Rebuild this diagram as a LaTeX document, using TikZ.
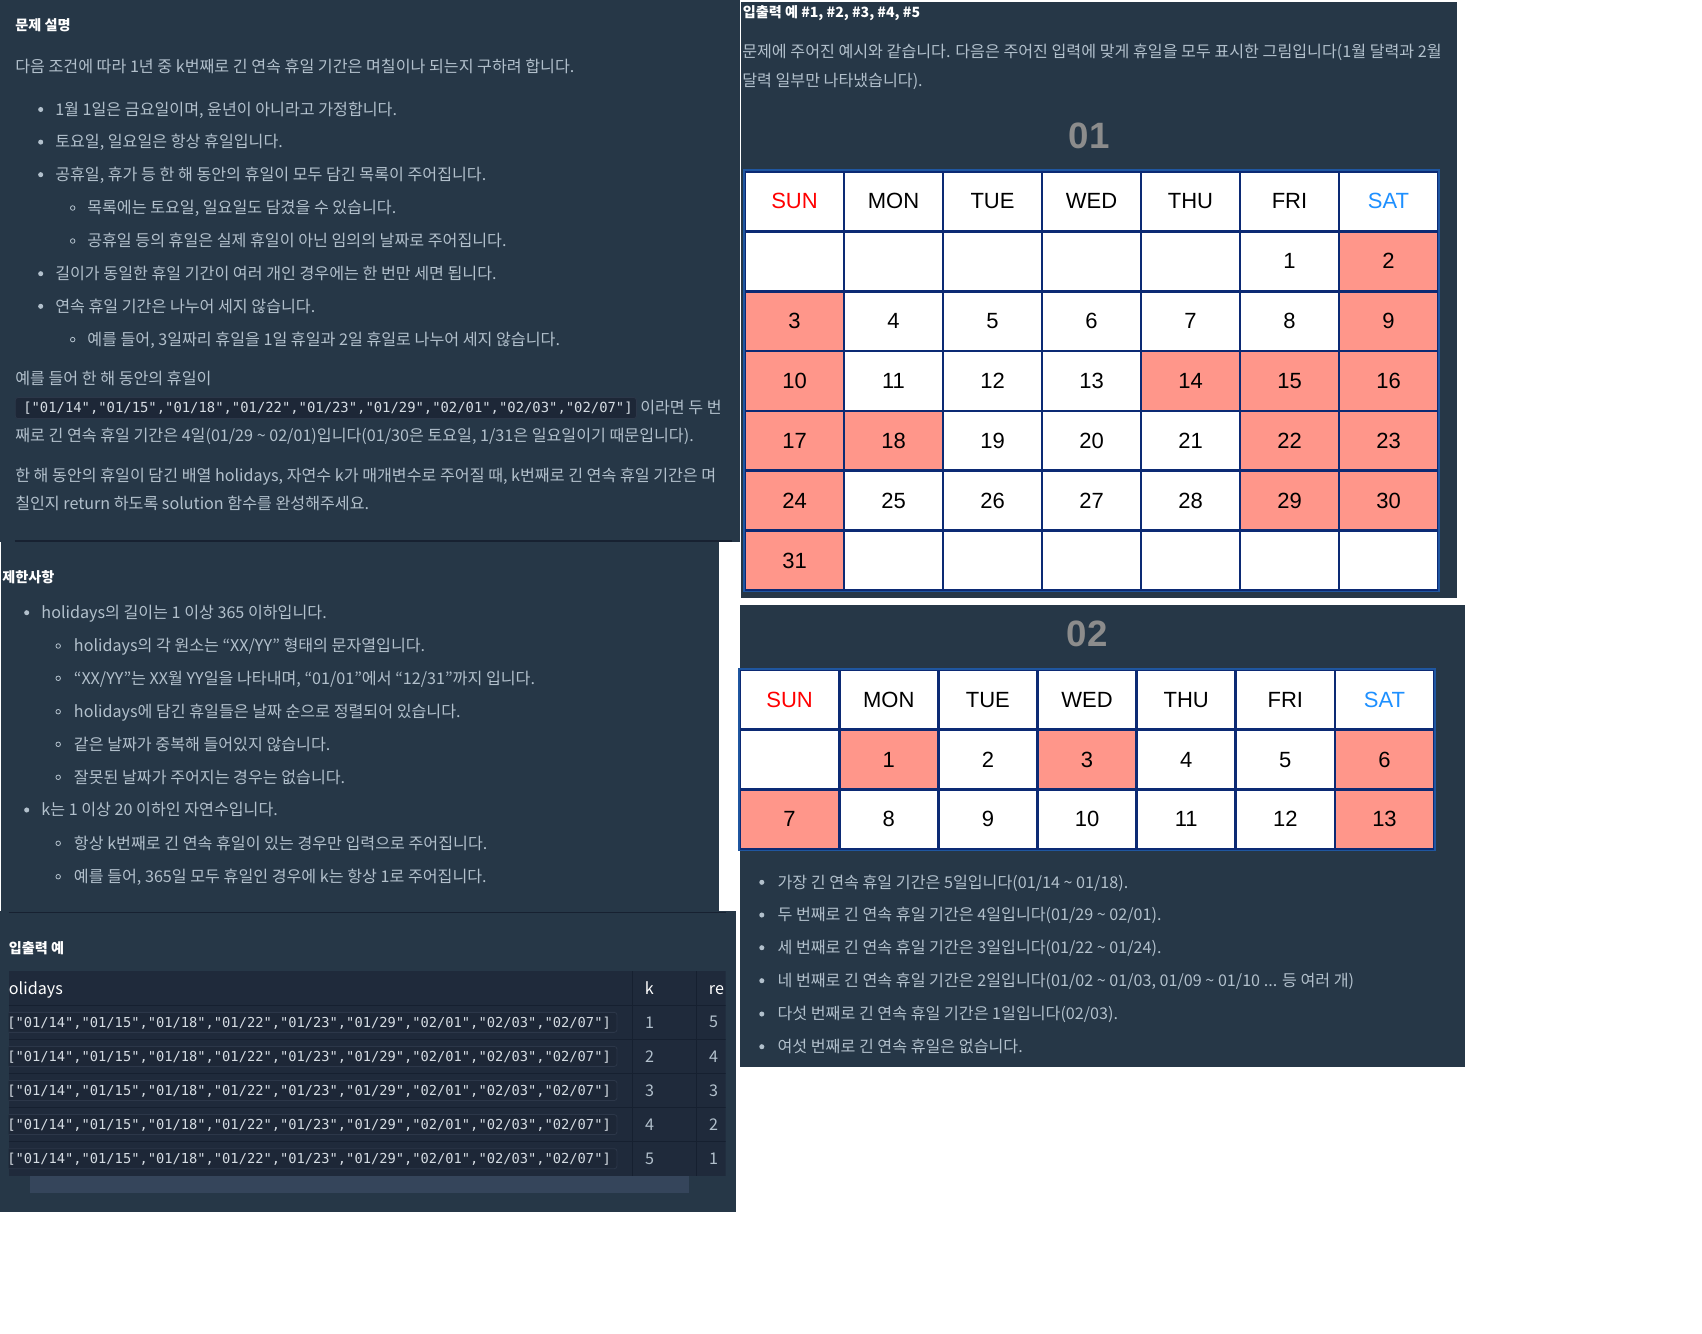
\documentclass[tikz,border=0pt]{standalone}
\usepackage{fontspec}
\setmainfont{Noto Sans CJK KR}
\newfontfamily\calfont{Liberation Sans}
\newfontfamily\codefont{DejaVu Sans Mono}
\definecolor{panelbg}{HTML}{263747}
\definecolor{bodytext}{HTML}{B2C0CC}
\definecolor{codetext}{HTML}{D5DCE3}
\definecolor{codebg}{HTML}{1D2737}
\definecolor{codeline}{HTML}{2C3749}
\definecolor{hrline}{HTML}{172131}
\definecolor{tablebg}{HTML}{1F2A3B}
\definecolor{tline}{HTML}{162030}
\definecolor{scroll}{HTML}{35455B}
\definecolor{holiday}{HTML}{FF968A}
\definecolor{cellline}{HTML}{0C2A74}
\definecolor{gridline}{HTML}{1F56A0}
\definecolor{monthgray}{HTML}{8C8C8C}
\definecolor{sunred}{HTML}{FF0000}
\definecolor{satblue}{HTML}{1E90FF}
\newcommand\hlist{["01/14","01/15","01/18","01/22","01/23","01/29","02/01","02/03","02/07"]}

\begin{document}
\begin{tikzpicture}[x=0.75pt,y=-0.75pt,
    every node/.style={inner sep=0},
    panel/.style={fill=panelbg},
    txt/.style={anchor=base west,text=bodytext,font=\fontsize{12.1}{14}\selectfont},
    head/.style={anchor=base west,text=white,font=\fontsize{10.6}{13}\selectfont\bfseries},
    dot/.style={fill=bodytext},
    ring/.style={draw=bodytext,line width=0.6pt},
    code/.style={anchor=base west,text=codetext,font=\fontsize{10.3}{12}\codefont},
    codebox/.style={fill=codebg,draw=codeline,line width=0.6pt,rounded corners=2pt},
    hr/.style={draw=hrline,line width=0.9pt},
    th/.style={anchor=base west,text=white,font=\fontsize{12.1}{14}\selectfont},
    td/.style={text=bodytext,font=\fontsize{12.1}{14}\selectfont},
    cell/.style={draw=cellline,line width=1.9pt,minimum width=74.25pt,minimum height=44.8pt,
        text=black,font=\fontsize{16.5}{18}\calfont},
    day0/.style={fill=white},
    day1/.style={fill=holiday},
    month/.style={text=monthgray,font=\fontsize{27.5}{30}\calfont\bfseries}]
    % 绘制背景
    \fill[white](0,0)rectangle(1702,1334);
    \useasboundingbox(0,0)rectangle(1702,1334);
    \fill[panel](0,0)rectangle(740,542);
    \fill[panel](1,542)rectangle(719,911);
    \fill[panel](0,911)rectangle(736,1212);
    \fill[panel](741,2)rectangle(1457,598);
    \fill[panel](740,605)rectangle(1465,1067);
    \draw[hr](14.5,541)--(732,541);
    \draw[hr](8.7,912.3)--(725.6,912.3);
    % 문제 설명
    \node[head](a0)at(15,31){문제 설명};
    \node[txt](a1)at(15,72.3){다음 조건에 따라 1년 중 k번째로 긴 연속 휴일 기간은 며칠이나 되는지 구하려 합니다.};
    \foreach \y in {109.5,142.1,174.7,273.7,306.3}
        \fill[dot](40.7,\y)circle(1.9pt);
    \foreach \y in {208,241,339.6}
        \draw[ring](72.7,\y)circle(1.7pt);
    \node[txt](a2)at(55,115.3){1월 1일은 금요일이며, 윤년이 아니라고 가정합니다.};
    \node[txt](a3)at(55,147.9){토요일, 일요일은 항상 휴일입니다.};
    \node[txt](a4)at(55,180.5){공휴일, 휴가 등 한 해 동안의 휴일이 모두 담긴 목록이 주어집니다.};
    \node[txt](a5)at(87,213.8){목록에는 토요일, 일요일도 담겼을 수 있습니다.};
    \node[txt](a6)at(87,246.8){공휴일 등의 휴일은 실제 휴일이 아닌 임의의 날짜로 주어집니다.};
    \node[txt](a7)at(55,279.5){길이가 동일한 휴일 기간이 여러 개인 경우에는 한 번만 세면 됩니다.};
    \node[txt](a8)at(55,312.1){연속 휴일 기간은 나누어 세지 않습니다.};
    \node[txt](a9)at(87,345.4){예를 들어, 3일짜리 휴일을 1일 휴일과 2일 휴일로 나누어 세지 않습니다.};
    \node[txt](a10)at(15,384.8){예를 들어 한 해 동안의 휴일이};
    \draw[codebox](15.3,397.5)rectangle(636.4,418.6);
    \node[code,font=\fontsize{10.4}{12}\codefont](a11)at(23,412.5){\hlist};
    \node[txt](a12)at(640,413.5){이라면 두 번};
    \node[txt](a13)at(15,441.8){째로 긴 연속 휴일 기간은 4일(01/29 \textasciitilde{} 02/01)입니다(01/30은 토요일, 1/31은 일요일이기 때문입니다).};
    \node[txt](a14)at(15,481.2){한 해 동안의 휴일이 담긴 배열 holidays, 자연수 k가 매개변수로 주어질 때, k번째로 긴 연속 휴일 기간은 며};
    \node[txt](a15)at(15,509.3){칠인지 return 하도록 solution 함수를 완성해주세요.};
    % 제한사항
    \node[head](b0)at(2,582){제한사항};
    \foreach \y in {612.7,810}
        \fill[dot](26.7,\y)circle(1.9pt);
    \foreach \y in {646,678.3,711.7,744.3,777.3,843.3,876.7}
        \draw[ring](58.2,\y)circle(1.7pt);
    \node[txt](b1)at(41.2,618.5){holidays의 길이는 1 이상 365 이하입니다.};
    \node[txt](b2)at(73.7,651.8){holidays의 각 원소는 “XX/YY” 형태의 문자열입니다.};
    \node[txt](b3)at(73.7,684.1){“XX/YY”는 XX월 YY일을 나타내며, “01/01”에서 “12/31”까지 입니다.};
    \node[txt](b4)at(73.7,717.5){holidays에 담긴 휴일들은 날짜 순으로 정렬되어 있습니다.};
    \node[txt](b5)at(73.7,750.1){같은 날짜가 중복해 들어있지 않습니다.};
    \node[txt](b6)at(73.7,783.1){잘못된 날짜가 주어지는 경우는 없습니다.};
    \node[txt](b7)at(41.2,815.8){k는 1 이상 20 이하인 자연수입니다.};
    \node[txt](b8)at(73.7,849.1){항상 k번째로 긴 연속 휴일이 있는 경우만 입력으로 주어집니다.};
    \node[txt](b9)at(73.7,882.5){예를 들어, 365일 모두 휴일인 경우에 k는 항상 1로 주어집니다.};
    % 입출력 예 표
    \node[head](e0)at(8.7,953.5){입출력 예};
    \begin{scope}
        \clip(8.7,971)rectangle(725.6,1175.7);
        \fill[tablebg](8.7,971)rectangle(725.6,1175.7);
        \foreach \y in {1005.3,1039.3,1073.3,1107.3,1141.7}
            \draw[tline,line width=0.9pt](8.7,\y)--(725.6,\y);
        \draw[tline,line width=0.9pt](632.6,971)--(632.6,1175.7);
        \draw[tline,line width=0.9pt](696.6,971)--(696.6,1175.7);
        \node[th](h1)at(8.7,994.8){olidays};
        \node[th](h2)at(644.7,994.8){k};
        \node[th](h3)at(708.7,994.8){re};
        \foreach \k/\r [count=\i] in {1/5,2/4,3/3,4/2,5/1}{
            \pgfmathsetmacro\yy{1005.3+(\i-0.5)*34.08}
            \draw[codebox](2,\yy-10)rectangle(617,\yy+10);
            \node[code](c\i)at(7,\yy+4.8){\hlist};
            \node[td](k\i)at(649.5,\yy){\k};
            \node[td](v\i)at(713.5,\yy){\r};
        }
    \end{scope}
    \fill[scroll](30,1176)rectangle(689.3,1192.7);
    % 입출력 예 #1
    \node[head](d0)at(742.5,17.5){입출력 예 \#1, \#2, \#3, \#4, \#5};
    \node[txt](d1)at(742,57.3){문제에 주어진 예시와 같습니다. 다음은 주어진 입력에 맞게 휴일을 모두 표시한 그림입니다(1월 달력과 2월};
    \node[txt](d2)at(742,86.3){달력 일부만 나타냈습니다).};
    % 一月日历
    \node[month](m1)at(1089,136){01};
    \foreach \n/\col [count=\i from 0] in {SUN/sunred,MON/black,TUE/black,WED/black,THU/black,FRI/black,SAT/satblue}
        \node[cell,day0,text=\col](jh\i)at({745+(\i+0.5)*99},{171.5+0.5*59.85}){\n};
    \foreach \c in {0,...,4}
        \node[cell,day0](jb\c)at({745+(\c+0.5)*99},{171.5+1.5*59.85}){};
    \foreach \c in {1,...,6}
        \node[cell,day0](je\c)at({745+(\c+0.5)*99},{171.5+6.5*59.85}){};
    \foreach \d in {1,...,31}{
        \pgfmathtruncatemacro\c{mod(\d+4,7)}
        \pgfmathtruncatemacro\r{div(\d+4,7)+1}
        \pgfmathtruncatemacro\h{(\c==0)||(\c==6)||(\d==14)||(\d==15)||(\d==18)||(\d==22)||(\d==23)||(\d==29)}
        \node[cell,day\h](j\d)at({745+(\c+0.5)*99},{171.5+(\r+0.5)*59.85}){\d};
    }
    \draw[gridline,line width=1.2pt](jh0.north west)rectangle(je6.south east);
    % 二月日历
    \node[month](m2)at(1087,634.3){02};
    \foreach \n/\col [count=\i from 0] in {SUN/sunred,MON/black,TUE/black,WED/black,THU/black,FRI/black,SAT/satblue}
        \node[cell,day0,text=\col](fh\i)at({740+(\i+0.5)*99.15},{670+0.5*59.7}){\n};
    \node[cell,day0](fb0)at({740+0.5*99.15},{670+1.5*59.7}){};
    \foreach \d in {1,...,13}{
        \pgfmathtruncatemacro\c{mod(\d,7)}
        \pgfmathtruncatemacro\r{div(\d,7)+1}
        \pgfmathtruncatemacro\h{(\c==0)||(\c==6)||(\d==1)||(\d==3)}
        \node[cell,day\h](f\d)at({740+(\c+0.5)*99.15},{670+(\r+0.5)*59.7}){\d};
    }
    \draw[gridline,line width=1.2pt](fh0.north west)rectangle(f13.south east);
    % 添加说明
    \foreach \y in {882.3,915,947.7,980.7,1014,1046.7}
        \fill[dot](761.8,\y)circle(1.9pt);
    \node[txt](g1)at(777.3,888.1){가장 긴 연속 휴일 기간은 5일입니다(01/14 \textasciitilde{} 01/18).};
    \node[txt](g2)at(777.3,920.8){두 번째로 긴 연속 휴일 기간은 4일입니다(01/29 \textasciitilde{} 02/01).};
    \node[txt](g3)at(777.3,953.5){세 번째로 긴 연속 휴일 기간은 3일입니다(01/22 \textasciitilde{} 01/24).};
    \node[txt](g4)at(777.3,986.5){네 번째로 긴 연속 휴일 기간은 2일입니다(01/02 \textasciitilde{} 01/03, 01/09 \textasciitilde{} 01/10 ... 등 여러 개)};
    \node[txt](g5)at(777.3,1019.8){다섯 번째로 긴 연속 휴일 기간은 1일입니다(02/03).};
    \node[txt](g6)at(777.3,1052.5){여섯 번째로 긴 연속 휴일은 없습니다.};
\end{tikzpicture}
\end{document}
